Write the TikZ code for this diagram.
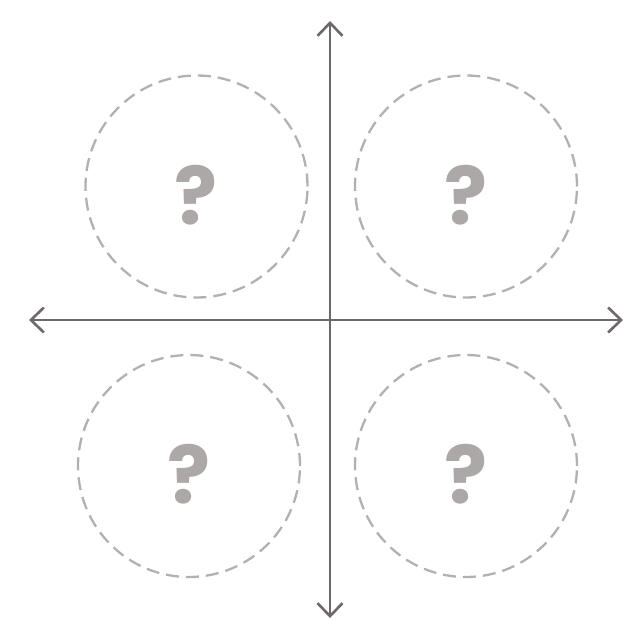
\documentclass[tikz,border=0pt]{standalone}
\usepackage{fontspec}
\newfontfamily\qfont{Poppins}
\usetikzlibrary{arrows.meta}
\definecolor{axisgray}{HTML}{6E6868}
\definecolor{ringgray}{HTML}{B4B0B0}
\definecolor{markgray}{HTML}{ADA8A8}
\begin{document}
\begin{tikzpicture}[x=1pt, y=-1pt,
  axis/.style={line width=2.6pt, draw=axisgray,
    {Straight Barb[length=13pt, width=25pt, line width=2.6pt]}-{Straight Barb[length=13pt, width=25pt, line width=2.6pt]}},
  ring/.style={circle, draw=ringgray, line width=2.3pt, dash pattern=on 13pt off 7pt,
    minimum size=222pt, inner sep=0pt},
  qmark/.style={text=markgray, font=\qfont\bfseries\fontsize{80}{80}\selectfont, inner sep=0pt}]

\useasboundingbox (0,0) rectangle (626,621);

% Axes
\coordinate (top) at (330,21);
\coordinate (bottom) at (330,618);
\coordinate (left) at (29,320);
\coordinate (right) at (623,320);
\draw[axis] (bottom) -- (top);
\draw[axis] (left) -- (right);

% Quadrants
\node[ring] (tl) at (196.5,186.5) {};
\node[ring] (tr) at (466,186.5) {};
\node[ring] (bl) at (189,466) {};
\node[ring] (br) at (466,466) {};

\foreach \q in {tl,tr,bl,br}
  \node[qmark] (\q-mark) at ([yshift=-8.5pt]\q.center) {?};

\end{tikzpicture}
\end{document}
